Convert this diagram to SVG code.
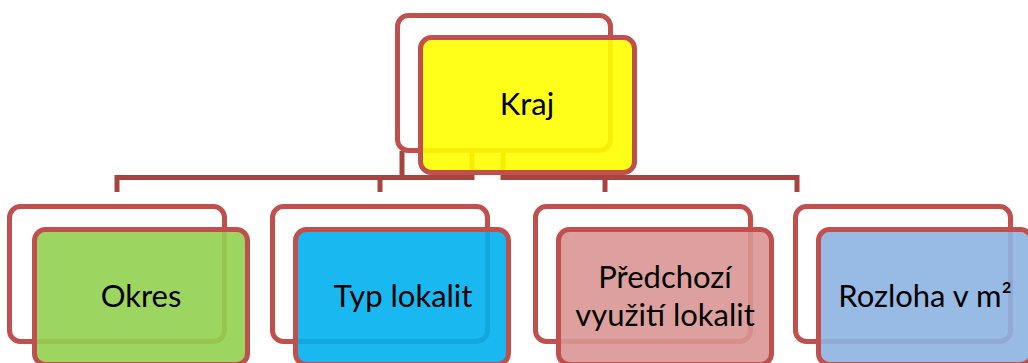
<svg xmlns="http://www.w3.org/2000/svg" width="1028" height="363" viewBox="0 0 1028 363">
<style>
.back{fill:none;stroke:#C0504D;stroke-width:5}
.front{stroke:#C0504D;stroke-width:5;fill-opacity:0.9}
.conn{fill:none;stroke:#A8443F;stroke-width:5;stroke-linejoin:miter}
.t{font-family:Lato,"Open Sans",sans-serif;font-size:31px;fill:#000;text-anchor:middle}
</style>
<rect width="1028" height="363" fill="#fff"/>
<g id="connectors">
<path class="conn" d="M402,151 V177.5"/>
<path class="conn" d="M472,151 V177.5 H117 V192"/>
<path class="conn" d="M380,177.5 V192"/>
<path class="conn" d="M503,151 V177.5 H797 V192"/>
<path class="conn" d="M605,177.5 V192"/>
</g>
<g id="node-kraj">
<rect class="back" x="397.5" y="15.5" width="213" height="135" rx="11"/>
<rect class="front" x="420.5" y="37.5" width="214" height="135" rx="11" fill="#FFFF00"/>
<text class="t" x="527" y="115">Kraj</text>
</g>
<g id="node-okres">
<rect class="back" x="9.5" y="206.5" width="215" height="135" rx="11"/>
<rect class="front" x="34.5" y="229.5" width="213" height="135" rx="11" fill="#92D050"/>
<text class="t" x="141" y="307">Okres</text>
</g>
<g id="node-typ">
<rect class="back" x="272.5" y="206.5" width="215" height="135" rx="11"/>
<rect class="front" x="295.5" y="229.5" width="213" height="135" rx="11" fill="#00B0F0"/>
<text class="t" x="403" y="307">Typ lokalit</text>
</g>
<g id="node-predchozi">
<rect class="back" x="535.5" y="206.5" width="215" height="135" rx="11"/>
<rect class="front" x="558.5" y="229.5" width="213" height="135" rx="11" fill="#D99694"/>
<text class="t" x="665" y="288">Předchozí</text>
<text class="t" x="665" y="326">využití lokalit</text>
</g>
<g id="node-rozloha">
<rect class="back" x="795.5" y="206.5" width="215" height="135" rx="11"/>
<rect class="front" x="818.5" y="229.5" width="213" height="135" rx="11" fill="#8DB4E2"/>
<text class="t" x="925" y="307">Rozloha v m²</text>
</g>
</svg>
